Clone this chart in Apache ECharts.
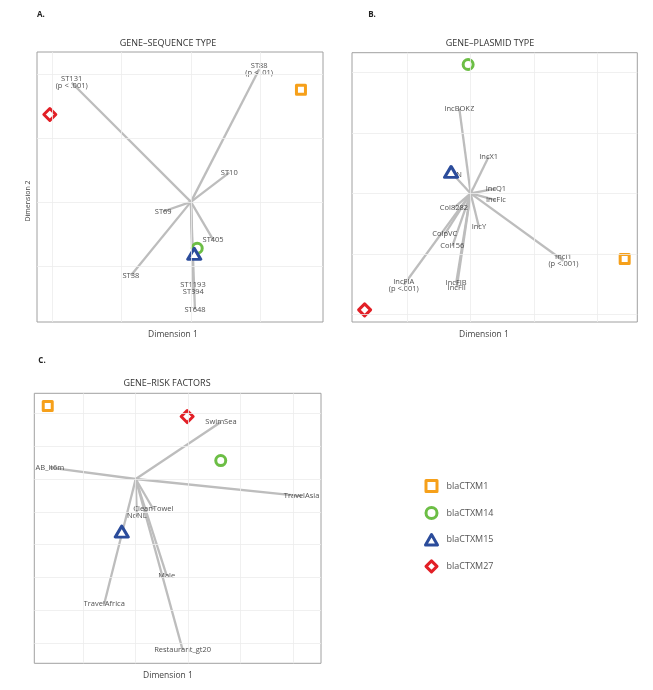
<!DOCTYPE html>
<html><head><meta charset="utf-8">
<script src="https://cdn.jsdelivr.net/npm/echarts@6/dist/echarts.min.js"></script>
<style>html,body{margin:0;padding:0;background:#fff}#c{width:653px;height:690px}</style>
</head><body><div id="c"></div>
<script>
// ---- data ----
const genes = ['blaCTXM1', 'blaCTXM14', 'blaCTXM15', 'blaCTXM27'];
const geneColors = ['#F6A01A', '#6CBE45', '#2B4C9B', '#E21F26'];

// Panel A: gene - sequence type
const stNames = ['ST131\n(p < .001)', 'ST88\n(p < .01)', 'ST10', 'ST69', 'ST405', 'ST38', 'ST1193', 'ST394', 'ST648'];
const stX = [-1.72, 0.985, 0.553, -0.40, 0.32, -0.866, 0.03, 0.035, 0.058];
const stY = [1.86, 2.07, 0.458, -0.15, -0.59, -1.15, -1.29, -1.40, -1.68];
const geneAX = [1.587, 0.091, 0.048, -2.035];
const geneAY = [1.75, -0.724, -0.81, 1.364];

// Panel B: gene - plasmid type
const plNames = ['IncBOKZ', 'IncX1', 'IncN', 'IncQ1', 'IncFIc', 'Col8282', 'IncY', 'ColpVC', 'Col156', 'IncI1\n(p <.001)', 'IncFIB', 'IncFII', 'IncFIA\n(p <.001)'];
const plX = [-0.18, 0.285, -0.265, 0.40, 0.40, -0.265, 0.13, -0.41, -0.29, 1.47, -0.23, -0.22, -1.06];
const plY = [1.40, 0.603, 0.30, 0.08, -0.11, -0.24, -0.55, -0.67, -0.87, -1.11, -1.48, -1.55, -1.51];
const geneBX = [2.44, -0.04, -0.31, -1.68];
const geneBY = [-1.08, 2.125, 0.355, -1.92];

// Panel C: gene - risk factors
const rfNames = ['SwimSea', 'AB_lt6m', 'TravelAsia', 'CleanTowel', 'NoNL', 'Male', 'TravelAfrica', 'Restaurant_gt20'];
const rfX = [0.812, -0.817, 1.58, 0.168, 0.01, 0.295, -0.30, 0.447];
const rfY = [0.868, 0.172, -0.26, -0.46, -0.56, -1.47, -1.90, -2.60];
const geneCX = [-0.838, 0.81, -0.133, 0.49];
const geneCY = [1.11, 0.28, -0.80, 0.95];

// grid line values
const gridAX = [-2, -1, 0, 1];
const gridAY = [-1, 0, 1, 2];
const gridBX = [-1, 0, 1, 2];
const gridBY = [-2, -1, 0, 1, 2];
const gridCX = [-0.5, 0, 0.5, 1, 1.5];
const gridCY = [-2.5, -2, -1.5, -1, -0.5, 0, 0.5, 1];

// ---- chart ----
const FONT = 'Open Sans';
const SYM = [
  'path://M-1,-1 L1,-1 L1,1 L-1,1 Z',
  'circle',
  'path://M0,-1 L1.15,1 L-1.15,1 Z',
  'path://M0,-1 L1,0 L0,1 L-1,0 Z'
];
const SIZE = [9, 10, [13, 11], 12];

const panels = [
  {grid: {left: 37, top: 52, width: 286, height: 270}, xr: [-2.22, 1.905], yr: [-1.875, 2.34],
   names: stNames, vx: stX, vy: stY, gx: geneAX, gy: geneAY, lx: gridAX, ly: gridAY},
  {grid: {left: 352, top: 52.7, width: 285.3, height: 269.3}, xr: [-1.88, 2.64], yr: [-2.12, 2.32],
   names: plNames, vx: plX, vy: plY, gx: geneBX, gy: geneBY, lx: gridBX, ly: gridBY},
  {grid: {left: 34.3, top: 393.3, width: 286.7, height: 270}, xr: [-0.966, 1.765], yr: [-2.805, 1.304],
   names: rfNames, vx: rfX, vy: rfY, gx: geneCX, gy: geneCY, lx: gridCX, ly: gridCY}
];

const grids = [], xAxes = [], yAxes = [], series = [];
panels.forEach((p, i) => {
  grids.push(Object.assign({show: true, borderColor: '#a0a0a0', borderWidth: 1, backgroundColor: '#fff'}, p.grid));
  const ax = (r) => ({type: 'value', gridIndex: i, min: r[0], max: r[1],
    axisLine: {show: false}, axisTick: {show: false}, axisLabel: {show: false}, splitLine: {show: false}});
  xAxes.push(ax(p.xr));
  yAxes.push(ax(p.yr));
  series.push({type: 'line', xAxisIndex: i, yAxisIndex: i, data: [], silent: true, z: 1,
    markLine: {silent: true, symbol: 'none', label: {show: false}, animation: false,
      lineStyle: {color: '#ececec', width: 0.8, type: 'solid'},
      data: p.lx.map(v => ({xAxis: v})).concat(p.ly.map(v => ({yAxis: v})))}});
  series.push({type: 'lines', coordinateSystem: 'cartesian2d', xAxisIndex: i, yAxisIndex: i, z: 2,
    silent: true, lineStyle: {color: '#bdbdbd', width: 2.3, opacity: 1},
    data: p.names.map((n, k) => ({coords: [[0, 0], [p.vx[k], p.vy[k]]]}))});
  series.push({type: 'scatter', xAxisIndex: i, yAxisIndex: i, z: 3, silent: true,
    symbolSize: 1, itemStyle: {color: 'transparent'},
    label: {show: true, position: 'inside', formatter: (d) => d.name,
      fontFamily: FONT, fontSize: 7.5, color: '#222', lineHeight: 7},
    data: p.names.map((n, k) => ({name: n, value: [p.vx[k], p.vy[k]]}))});
  genes.forEach((g, k) => {
    series.push({type: 'scatter', name: g, xAxisIndex: i, yAxisIndex: i, z: 4,
      symbol: SYM[k], symbolSize: SIZE[k],
      itemStyle: {color: '#fff', borderColor: geneColors[k], borderWidth: 3, borderJoin: 'round', opacity: 1},
      data: [[p.gx[k], p.gy[k]]]});
  });
});

const txt = (x, y, s, opt) => ({type: 'text', x: x, y: y,
  style: Object.assign({text: s, fontFamily: FONT, fontSize: 9, fill: '#333', align: 'center', verticalAlign: 'middle'}, opt || {})});

const chart = echarts.init(document.getElementById('c'), null, {renderer: 'canvas'});
chart.setOption({
  animation: false,
  backgroundColor: '#fff',
  grid: grids, xAxis: xAxes, yAxis: yAxes, series: series,
  legend: {orient: 'vertical', left: 419, top: 474, itemWidth: 12, itemHeight: 11, itemGap: 13,
    data: genes, selectedMode: false,
    itemStyle: {borderWidth: 3, borderJoin: 'round'},
    textStyle: {fontFamily: FONT, fontSize: 9, color: '#555', padding: [0, 0, 0, 4]}},
  graphic: [
    txt(41, 15, 'A.', {fontWeight: 'bold', fontSize: 8, fill: '#222'}),
    txt(372, 15, 'B.', {fontWeight: 'bold', fontSize: 8, fill: '#222'}),
    txt(42, 361, 'C.', {fontWeight: 'bold', fontSize: 8, fill: '#222'}),
    txt(168, 43, 'GENE–SEQUENCE TYPE'),
    txt(490, 43, 'GENE–PLASMID TYPE'),
    txt(167, 383, 'GENE–RISK FACTORS'),
    txt(173, 335, 'Dimension 1', {fontSize: 8.5, fill: '#444'}),
    txt(484, 335, 'Dimension 1', {fontSize: 8.5, fill: '#444'}),
    txt(168, 676, 'Dimension 1', {fontSize: 8.5, fill: '#444'}),
    {type: 'text', x: 28, y: 201, rotation: Math.PI / 2,
      style: {text: 'Dimension 2', fontFamily: FONT, fontSize: 7, fill: '#444', align: 'center', verticalAlign: 'middle'}}
  ]
});
</script></body></html>
